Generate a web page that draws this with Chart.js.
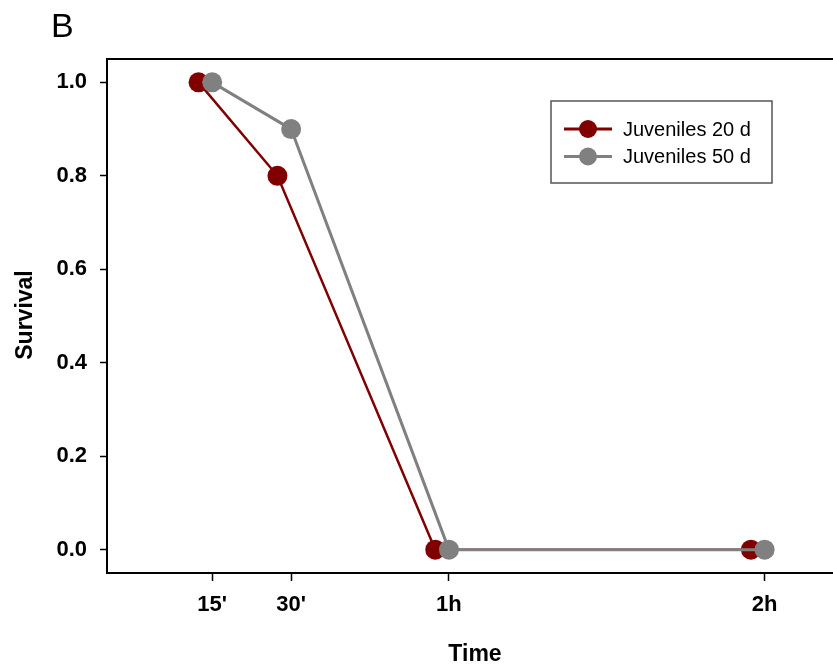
<!DOCTYPE html>
<html>
<head>
<meta charset="utf-8">
<script src="https://cdn.jsdelivr.net/npm/chart.js@4/dist/chart.umd.min.js"></script>
<style>
html, body { margin: 0; padding: 0; background: #fff; overflow: hidden; }
#wrap { width: 833px; height: 670px; position: relative; }
</style>
</head>
<body>
<div id="wrap"><canvas id="c" width="833" height="670"></canvas></div>
<script>
// ---- data ----
const seriesNames = ["Juveniles 20 d", "Juveniles 50 d"];
const seriesColors = ["#800000", "#808080"];
const time20 = [12.4, 27.4, 57.4, 117.4];   // minutes (plotted slightly offset in original)
const surv20 = [1.0, 0.8, 0.0, 0.0];
const time50 = [15, 30, 60, 120];
const surv50 = [1.0, 0.9, 0.0, 0.0];
const xTickValues = [15, 30, 60, 120];
const xTickLabels = ["15'", "30'", "1h", "2h"];
const yTickValues = [0, 0.2, 0.4, 0.6, 0.8, 1.0];
const panelLabel = "B";
const xTitle = "Time";
const yTitle = "Survival";

const FONT = "'Liberation Sans', Arial, sans-serif";

function pts(xs, ys) { return xs.map((x, i) => ({ x: x, y: ys[i] })); }

const decor = {
  id: 'decor',
  afterDraw(chart) {
    const ctx = chart.ctx;
    const a = chart.chartArea;
    ctx.save();
    // top border
    ctx.strokeStyle = '#000';
    ctx.lineWidth = 2;
    ctx.beginPath();
    ctx.moveTo(a.left - 1, a.top);
    ctx.lineTo(a.right, a.top);
    ctx.stroke();

    // panel label
    ctx.fillStyle = '#000';
    ctx.font = "34px " + FONT;
    ctx.textAlign = 'left';
    ctx.textBaseline = 'alphabetic';
    ctx.fillText(panelLabel, 51, 37);

    // x title
    ctx.font = "bold 23px " + FONT;
    ctx.textAlign = 'center';
    ctx.fillText(xTitle, 475, 661);

    // y title
    ctx.save();
    ctx.translate(31.5, 315);
    ctx.rotate(-Math.PI / 2);
    ctx.fillText(yTitle, 0, 0);
    ctx.restore();

    // legend
    const bx = 551, by = 101, bw = 221, bh = 82;
    ctx.strokeStyle = '#555';
    ctx.lineWidth = 1.5;
    ctx.strokeRect(bx, by, bw, bh);
    const rows = [129, 156.5];
    chart.data.datasets.forEach((ds, i) => {
      const y = rows[i];
      ctx.strokeStyle = ds.borderColor;
      ctx.lineWidth = 3;
      ctx.beginPath();
      ctx.moveTo(564, y);
      ctx.lineTo(612, y);
      ctx.stroke();
      ctx.fillStyle = ds.borderColor;
      ctx.beginPath();
      ctx.arc(588, y, 9, 0, Math.PI * 2);
      ctx.fill();
      ctx.fillStyle = '#000';
      ctx.font = "20px " + FONT;
      ctx.textAlign = 'left';
      ctx.textBaseline = 'middle';
      ctx.fillText(ds.label, 623, y + 1);
    });
    ctx.restore();
  }
};

new Chart(document.getElementById('c'), {
  type: 'line',
  data: {
    datasets: [
      {
        label: seriesNames[0],
        data: pts(time20, surv20),
        borderColor: seriesColors[0],
        backgroundColor: seriesColors[0],
        pointBackgroundColor: seriesColors[0],
        borderWidth: 2.5,
        pointRadius: 10,
        pointBorderWidth: 0,
        tension: 0,
        order: 2
      },
      {
        label: seriesNames[1],
        data: pts(time50, surv50),
        borderColor: seriesColors[1],
        backgroundColor: seriesColors[1],
        pointBackgroundColor: seriesColors[1],
        borderWidth: 3,
        pointRadius: 10,
        pointBorderWidth: 0,
        tension: 0,
        order: 1
      }
    ]
  },
  options: {
    responsive: false,
    animation: false,
    events: [],
    layout: { autoPadding: false, padding: { top: 59, right: 0, left: 0, bottom: 0 } },
    plugins: { legend: { display: false }, tooltip: { enabled: false } },
    scales: {
      x: {
        type: 'linear',
        min: -5,
        max: 133,
        afterBuildTicks: (s) => { s.ticks = xTickValues.map(v => ({ value: v })); },
        afterFit: (s) => { s.height = 97; s.paddingLeft = 0; s.paddingRight = 0; },
        ticks: {
          color: '#000',
          font: { family: FONT, size: 22, weight: 'bold' },
          padding: 11,
          maxRotation: 0,
          autoSkip: false,
          callback: (v) => xTickLabels[xTickValues.indexOf(v)]
        },
        grid: { display: true, drawOnChartArea: false, drawTicks: true, tickLength: 8, tickWidth: 1.5, tickColor: '#000', color: '#000' },
        border: { display: true, color: '#000', width: 2 }
      },
      y: {
        type: 'linear',
        min: -0.05,
        max: 1.05,
        afterBuildTicks: (s) => { s.ticks = yTickValues.map(v => ({ value: v })); },
        afterFit: (s) => { s.width = 107; s.paddingTop = 0; s.paddingBottom = 0; },
        ticks: {
          color: '#000',
          font: { family: FONT, size: 22, weight: 'bold' },
          padding: 13,
          autoSkip: false,
          callback: (v) => Number(v).toFixed(1)
        },
        grid: { display: true, drawOnChartArea: false, drawTicks: true, tickLength: 7, tickWidth: 1.5, tickColor: '#000', color: '#000' },
        border: { display: true, color: '#000', width: 2 }
      }
    }
  },
  plugins: [decor]
});
</script>
</body>
</html>
